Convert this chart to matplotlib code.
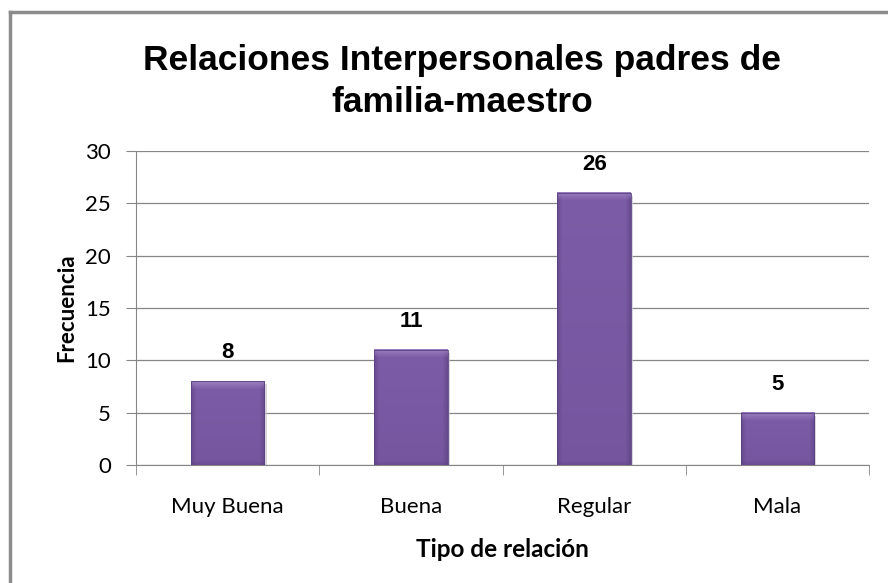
import numpy as np
import matplotlib.pyplot as plt
from matplotlib.lines import Line2D
from matplotlib.colors import to_rgb

categories = ["Muy Buena", "Buena", "Regular", "Mala"]
frequencies = [8, 11, 26, 5]
y_ticks = [0, 5, 10, 15, 20, 25, 30]

plt.rcParams["font.family"] = ["Lato", "DejaVu Sans"]

fig = plt.figure(figsize=(8.88, 5.83), dpi=100)
ax = fig.add_axes([0.1532, 0.2024, 0.8254, 0.5386])

# outer chart frame (left and top edges only visible)
fig.add_artist(Line2D([0.0113, 0.0113], [0, 0.9794], color="#8c8c8c", lw=2.5,
                      transform=fig.transFigure))
fig.add_artist(Line2D([0.0113, 1], [0.9794, 0.9794], color="#8c8c8c", lw=2.5,
                      transform=fig.transFigure))

BASE = np.array(to_rgb("#7d5ca7"))
LIGHT = np.array(to_rgb("#a78ccb"))
DARK = np.array(to_rgb("#5a4080"))


def bevel_image(h_px, w_px=74, bevel=8):
    # purple fill, lighter bevel on top, darker sides and bottom
    h_px = max(int(h_px), bevel * 2)
    img = np.tile(BASE, (h_px, w_px, 1))
    xs = np.arange(w_px)
    d = np.minimum(xs, w_px - 1 - xs)
    side = np.clip(1 - d / 5.0, 0, 1) * 0.6
    img = img * (1 - side[None, :, None]) + DARK * side[None, :, None]
    ys = np.linspace(0, 1, h_px)[:, None]
    vert = 0.22 * ys
    img = img * (1 - vert[..., None]) + DARK * vert[..., None]
    top = np.clip(1 - np.arange(bevel) / bevel, 0, 1)[:, None, None] * 0.7
    img[:bevel] = img[:bevel] * (1 - top) + LIGHT * top
    bot = np.clip(1 - np.arange(4) / 4, 0, 1)[::-1][:, None, None] * 0.4
    img[-4:] = img[-4:] * (1 - bot) + DARK * bot
    return img


x = list(range(len(categories)))
ax.bar([i + 0.012 for i in x], frequencies, width=0.4, bottom=-0.3,
       color="#c9c3d1", alpha=0.7, zorder=2)
bars = ax.bar(x, frequencies, width=0.4, color="none",
              edgecolor="#5a4180", linewidth=0.6, zorder=4)
px_per_unit = 314 / 30
for b in bars:
    x0, y0 = b.get_x(), b.get_y()
    w, h = b.get_width(), b.get_height()
    ax.imshow(bevel_image(h * px_per_unit), extent=[x0, x0 + w, y0, y0 + h],
              aspect="auto", zorder=3, interpolation="bilinear")

for i, v in enumerate(frequencies):
    ax.annotate(str(v), (i, v), xytext=(0, 13), textcoords="offset points",
                ha="center", va="bottom", fontsize=16, fontweight="bold",
                family=["Liberation Sans"])

ax.set_xlim(-0.5, len(categories) - 0.5)
ax.set_ylim(0, 30)
ax.set_yticks(y_ticks)
ax.set_xticks(x)
ax.set_xticklabels(categories)
ax.set_xticks([i - 0.5 for i in range(len(categories) + 1)], minor=True)
ax.tick_params(axis="x", which="major", length=0, pad=23, labelsize=16)
ax.tick_params(axis="x", which="minor", length=7, color="#868686")
ax.tick_params(axis="y", length=7, color="#868686", labelsize=16, pad=11)
ax.grid(axis="y", color="#868686", linewidth=0.9, zorder=0)

for side in ["top", "right"]:
    ax.spines[side].set_visible(False)
for side in ["left", "bottom"]:
    ax.spines[side].set_color("#868686")

ax.set_xlabel("Tipo de relación", fontsize=17.5, fontweight="bold", labelpad=15)
ax.set_ylabel("Frecuencia", fontsize=16, fontweight="bold", labelpad=6)

fig.suptitle("Relaciones Interpersonales padres de\nfamilia-maestro", x=0.52, y=0.925,
             fontsize=25.5, fontweight="bold", family=["Liberation Sans"],
             linespacing=1.36)

fig.savefig("out.png", dpi=100)
